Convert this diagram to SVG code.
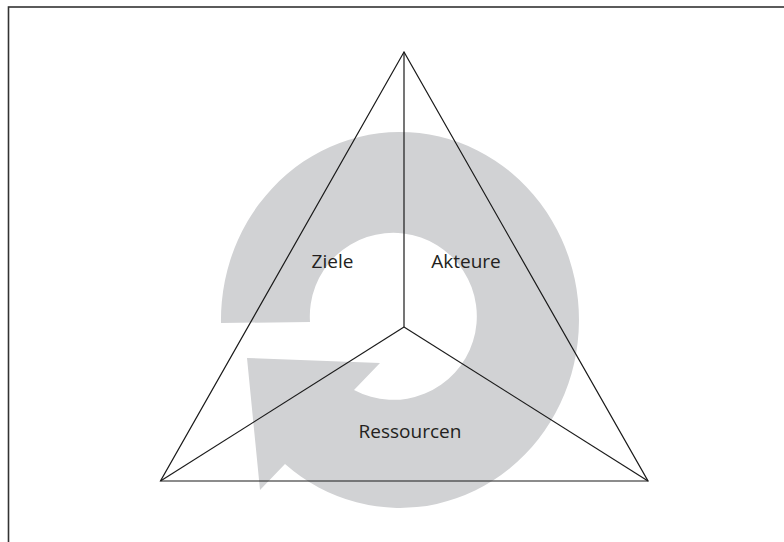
<svg xmlns="http://www.w3.org/2000/svg" width="784" height="542" viewBox="0 0 784 542">
  <style>
    .ln { fill: none; stroke: #1a1a1a; stroke-width: 1.2; stroke-linejoin: miter; }
    .lbl { font-family: "Open Sans", "Liberation Sans", sans-serif; font-size: 19px; fill: #231f20; text-anchor: middle; }
    .cycle { fill: #d1d2d4; }
  </style>
  <rect x="0" y="0" width="784" height="542" fill="#ffffff"/>
  <rect x="8.5" y="7" width="800" height="560" fill="none" stroke="#333333" stroke-width="1.6"/>
  <g id="cycle">
    <path class="cycle" d="M 221,323 A 179 188 0 1 1 285,464 L 260,490 L 247,358 L 380,363 L 354,390 A 83.5 83.5 0 1 0 310,322 Z"/>
  </g>
  <g id="connectors">
    <polygon class="ln" points="404,52 160.5,481 648,481"/>
    <line class="ln" x1="404" y1="52" x2="404" y2="327"/>
    <line class="ln" x1="404" y1="327" x2="160.5" y2="481"/>
    <line class="ln" x1="404" y1="327" x2="648" y2="481"/>
  </g>
  <g id="ziele"><text class="lbl" x="332.5" y="268">Ziele</text></g>
  <g id="akteure"><text class="lbl" x="466" y="268">Akteure</text></g>
  <g id="ressourcen"><text class="lbl" x="410" y="438">Ressourcen</text></g>
</svg>
